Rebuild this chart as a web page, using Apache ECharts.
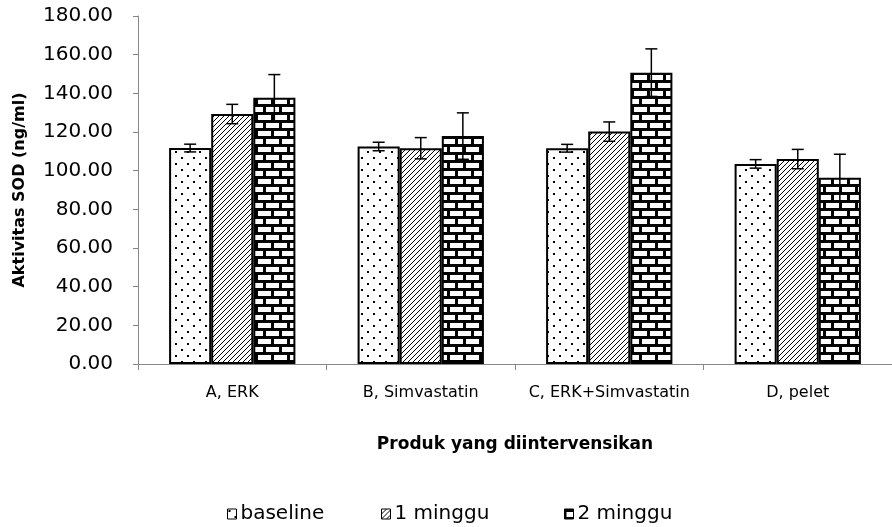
<!DOCTYPE html>
<html>
<head>
<meta charset="utf-8">
<script src="https://cdn.jsdelivr.net/npm/echarts@6/dist/echarts.min.js"></script>
<style>html,body{margin:0;padding:0;background:#fff}#c{width:892px;height:527px}</style>
</head>
<body>
<div id="c"></div>
<script>
const categories = ['A, ERK', 'B, Simvastatin', 'C, ERK+Simvastatin', 'D, pelet'];
const seriesNames = ['baseline', '1 minggu', '2 minggu'];
const baseline = [111.7, 112.5, 111.6, 103.5];
const week1 = [129.3, 111.6, 120.2, 106.0];
const week2 = [137.7, 117.9, 150.7, 96.3];
const baselineErr = [2.0, 2.2, 2.0, 2.2];
const week1Err = [5.0, 5.5, 5.0, 5.0];
const week2Err = [12.0, 12.0, 12.3, 12.2];
const yTicks = [0, 20, 40, 60, 80, 100, 120, 140, 160, 180];

function makeCanvas(w, h) {
  const c = document.createElement('canvas');
  c.width = w; c.height = h;
  return c;
}
function dotsPattern() {
  const c = makeCanvas(12, 12), g = c.getContext('2d');
  g.fillStyle = '#fff'; g.fillRect(0, 0, 12, 12);
  g.fillStyle = '#000';
  g.fillRect(1, 1, 2, 2); g.fillRect(7, 7, 2, 2);
  return c;
}
function hatchPattern() {
  const s = 5, c = makeCanvas(s, s), g = c.getContext('2d');
  g.fillStyle = '#fff'; g.fillRect(0, 0, s, s);
  g.strokeStyle = '#000'; g.lineWidth = 1;
  g.beginPath();
  g.moveTo(0, s); g.lineTo(s, 0);
  g.moveTo(-1, 1); g.lineTo(1, -1);
  g.moveTo(s - 1, s + 1); g.lineTo(s + 1, s - 1);
  g.stroke();
  return c;
}
function brickPattern() {
  const c = makeCanvas(16, 16), g = c.getContext('2d');
  g.fillStyle = '#000'; g.fillRect(0, 0, 16, 16);
  g.fillStyle = '#fff';
  g.fillRect(2, 3, 13, 5);
  g.fillRect(10, 11, 6, 5);
  g.fillRect(0, 11, 7, 5);
  return c;
}
const patterns = [dotsPattern(), hatchPattern(), brickPattern()];
const values = [baseline, week1, week2];
const errs = [baselineErr, week1Err, week2Err];
const GAP = 0.33;

const font = '"DejaVu Sans", sans-serif';
const series = [];
seriesNames.forEach((name, i) => {
  series.push({
    name: name,
    type: 'bar',
    data: values[i],
    barGap: '0%',
    barCategoryGap: '33%',
    itemStyle: { color: { image: patterns[i], repeat: 'repeat' }, borderColor: '#000', borderWidth: 2 },
    silent: true
  });
});
seriesNames.forEach((name, i) => {
  series.push({
    name: name + ' err',
    type: 'custom',
    z: 10,
    silent: true,
    data: values[i].map((v, k) => [k, v, errs[i][k]]),
    encode: { x: 0, y: 1 },
    renderItem: function (params, api) {
      const k = api.value(0), v = api.value(1), e = api.value(2);
      const band = api.size([1, 0])[0];
      const bw = band * (1 - GAP) / 3;
      const x = api.coord([k, 0])[0] + (i - 1) * bw;
      const yt = api.coord([k, v + e])[1];
      const yb = api.coord([k, v - e])[1];
      const cap = 6;
      const st = { stroke: '#000', lineWidth: 1.5 };
      return {
        type: 'group',
        children: [
          { type: 'line', shape: { x1: x, y1: yt, x2: x, y2: yb }, style: st },
          { type: 'line', shape: { x1: x - cap, y1: yt, x2: x + cap, y2: yt }, style: st },
          { type: 'line', shape: { x1: x - cap, y1: yb, x2: x + cap, y2: yb }, style: st }
        ]
      };
    }
  });
});

const legendLefts = [222, 376, 559];
const legends = seriesNames.map((n, i) => ({
  data: [n],
  left: legendLefts[i],
  top: 499,
  itemWidth: 9,
  itemHeight: 10,
  itemGap: 2,
  selectedMode: false,
  icon: 'rect',
  itemStyle: { borderColor: '#000', borderWidth: 1 },
  textStyle: { fontFamily: font, fontSize: 20, color: '#000', padding: [0, 0, 0, -1] }
}));

const chart = echarts.init(document.getElementById('c'), null, { renderer: 'canvas' });
chart.setOption({
  animation: false,
  backgroundColor: '#fff',
  legend: legends,
  grid: { left: 138, right: 0, top: 16, bottom: 163, containLabel: false },
  xAxis: {
    type: 'category',
    data: categories,
    name: 'Produk yang diintervensikan',
    nameLocation: 'middle',
    nameGap: 72,
    nameTextStyle: { fontFamily: font, fontSize: 17, fontWeight: 'bold', color: '#000' },
    axisLine: { lineStyle: { color: '#888', width: 1 } },
    axisTick: { show: true, length: 6, lineStyle: { color: '#888' } },
    axisLabel: { fontFamily: font, fontSize: 16, color: '#000', margin: 21, interval: 0 }
  },
  yAxis: {
    type: 'value',
    min: yTicks[0],
    max: yTicks[yTicks.length - 1],
    interval: 20,
    name: 'Aktivitas SOD (ng/ml)',
    nameLocation: 'middle',
    nameGap: 110,
    nameTextStyle: { fontFamily: font, fontSize: 16, fontWeight: 'bold', color: '#000' },
    splitLine: { show: false },
    axisLine: { show: true, lineStyle: { color: '#888', width: 1 } },
    axisTick: { show: true, length: 5, lineStyle: { color: '#888' } },
    axisLabel: { fontFamily: font, fontSize: 20, color: '#000', margin: 25, formatter: v => v.toFixed(2) }
  },
  series: series
});
</script>
</body>
</html>
